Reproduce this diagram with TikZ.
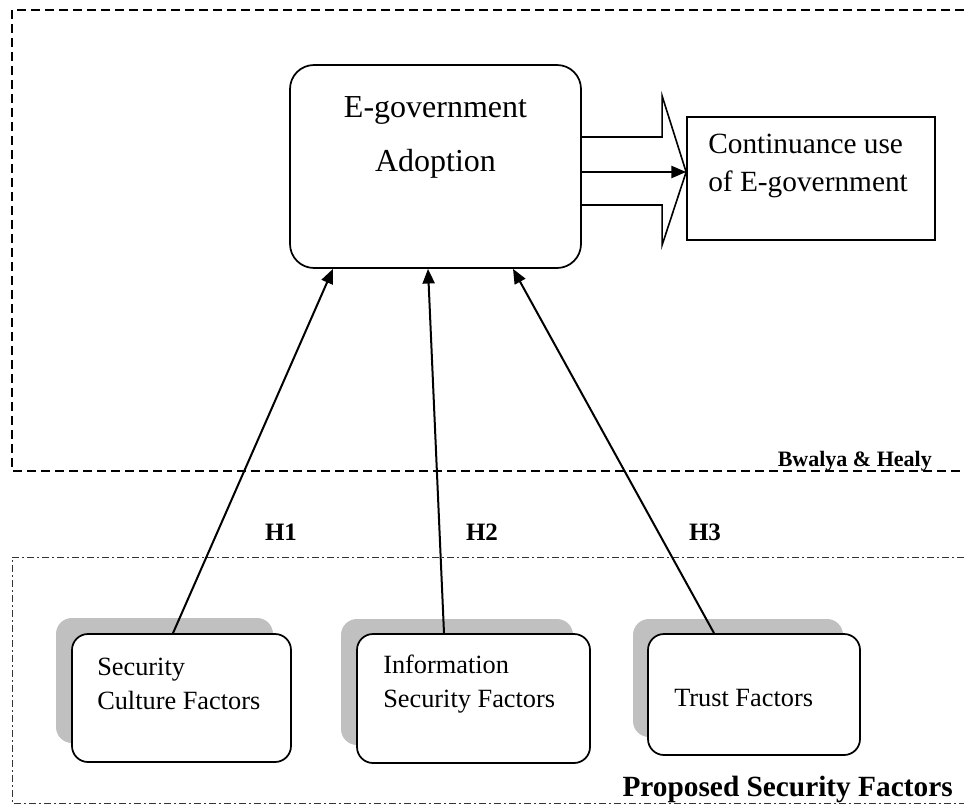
\documentclass[tikz,border=0pt]{standalone}
\usepackage{fontspec}
\setmainfont{Liberation Serif}
\usetikzlibrary{arrows.meta,calc}
\definecolor{shadowgray}{RGB}{192,192,192}
\begin{document}
\begin{tikzpicture}[x=0.75pt,y=-0.75pt,
  rbox/.style={draw,line width=1.3pt,rounded corners=12pt,inner sep=0pt,fill=white},
  shadowbox/.style={fill=shadowgray,rounded corners=12pt,inner sep=0pt},
  sbox/.style={draw,line width=1.3pt,inner sep=0pt},
  arr/.style={line width=1.5pt,-{Triangle[length=11pt,width=9pt]}},
  bigarrow/.style={line width=1.2pt,line join=miter},
  topframe/.style={line width=1.1pt,dash pattern=on 6.75pt off 3.75pt},
  botframe/.style={line width=0.7pt,black!80,dash pattern=on 5.25pt off 2.25pt on 1.5pt off 2.25pt},
  boxtext/.style={inner sep=0pt,anchor=west,align=left,font=\fontsize{19.75pt}{25.5pt}\selectfont},
  hlabel/.style={inner sep=0pt,font=\bfseries\fontsize{18.75pt}{20pt}\selectfont}
]
\useasboundingbox (0,0) rectangle (964,807);

% frames
\draw[topframe] (964,10) -- (12,10) -- (12,471) -- (964,471);
\draw[botframe] (964,557) -- (12,557) -- (12,803) -- (964,803);

\node[inner sep=0pt,anchor=east,font=\bfseries\fontsize{16.5pt}{18pt}\selectfont] (bh) at (932,461) {Bwalya \& Healy};
\node[inner sep=0pt,anchor=east,font=\bfseries\fontsize{22pt}{24pt}\selectfont] (psf) at (953,789) {Proposed Security Factors};

% top boxes
\node[rbox,rounded corners=18pt,minimum width=218.25pt,minimum height=152.25pt] (egov) at (435.5,166.5) {};
\node[inner sep=0pt,align=center,font=\fontsize{24pt}{40.5pt}\selectfont] (egovtext) at (435.5,137) {E-government\\Adoption};

\node[sbox,minimum width=186pt,minimum height=92.25pt] (cont) at (811,178.5) {};
\node[inner sep=0pt,anchor=west,align=left,font=\fontsize{22pt}{28.5pt}\selectfont] (conttext) at (708,166) {Continuance use\\of E-government};

% big arrow
\coordinate (tip) at ($(cont.west)+(0,-6.5)$);
\draw[bigarrow] (egov.east |- 0,137) -- ($(tip)+(-24,-35)$) -- ($(tip)+(-24,-76)$) -- (tip)
  -- ($(tip)+(-24,73)$) -- ($(tip)+(-24,33)$) -- (egov.east |- 0,205);
\draw[arr] (egov.east |- tip) -- (tip);

% bottom boxes
\node[shadowbox,minimum width=162.75pt,minimum height=93.75pt] (sh1) at (164.5,680.5) {};
\node[rbox,minimum width=164.25pt,minimum height=96pt] (box1) at (181.5,698) {};
\node[boxtext] (t1) at (97,684) {Security\\Culture Factors};

\node[shadowbox,minimum width=174pt,minimum height=94.5pt] (sh2) at (457,682) {};
\node[rbox,minimum width=174.75pt,minimum height=96.75pt] (box2) at (473.5,698.5) {};
\node[boxtext] (t2) at (383,684) {Information\\Security Factors};

\node[shadowbox,minimum width=157.5pt,minimum height=88.5pt] (sh3) at (738,678) {};
\node[rbox,minimum width=159pt,minimum height=90.75pt] (box3) at (754,694.5) {};
\node[boxtext] (t3) at (674,698) {Trust Factors};

% connectors
\draw[arr] ($(box1.north)+(-8.5,0)$) -- ($(egov.south)+(-102.5,0)$);
\draw[arr] ($(box2.north)+(-29.5,0)$) -- ($(egov.south)+(-7.5,0)$);
\draw[arr] ($(box3.north)+(-40,0)$) -- ($(egov.south)+(77.5,0)$);

\node[hlabel] (H1) at (281,532) {H1};
\node[hlabel] (H2) at (482,532) {H2};
\node[hlabel] (H3) at (705,532) {H3};
\end{tikzpicture}
\end{document}
